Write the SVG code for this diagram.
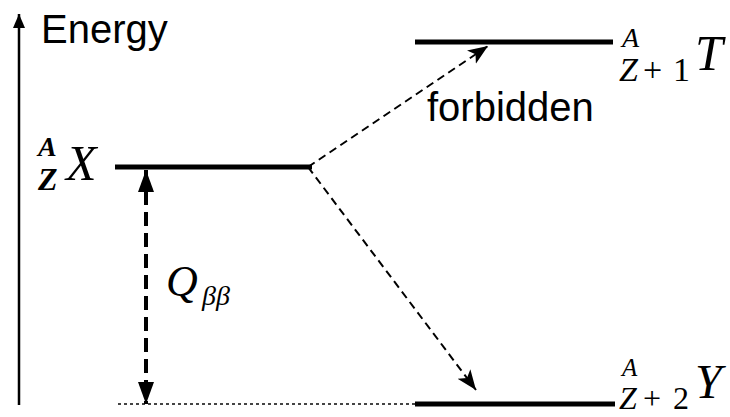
<svg xmlns="http://www.w3.org/2000/svg" width="730" height="417" viewBox="0 0 730 417">
<style>
.lvl{stroke:#000;stroke-width:5;fill:none}
.sans{font-family:"Liberation Sans",Arial,sans-serif;font-size:40px;fill:#000}
.m{font-family:"Liberation Serif","Times New Roman",serif;font-style:italic;fill:#000}
.r{font-family:"Liberation Serif","Times New Roman",serif;fill:#000}
.dash{stroke:#000;stroke-width:2;stroke-dasharray:8 5;fill:none}
</style>
<defs>
<marker id="ah" markerUnits="userSpaceOnUse" markerWidth="22" markerHeight="18" refX="20" refY="8" orient="auto">
<path d="M0,0 L20,8 L0,16 L5,8 z" fill="#000"/>
</marker>
<marker id="axh" markerUnits="userSpaceOnUse" markerWidth="16" markerHeight="14" refX="14" refY="6" orient="auto">
<path d="M0,0 L14,6 L0,12 z" fill="#000"/>
</marker>
<marker id="qh" markerUnits="userSpaceOnUse" markerWidth="24" markerHeight="18" refX="22" refY="8" orient="auto-start-reverse">
<path d="M0,0 L22,8 L0,16 z" fill="#000"/>
</marker>
</defs>
<g id="axis">
<line x1="19" y1="405" x2="19" y2="14" stroke="#000" stroke-width="2.5" marker-end="url(#axh)"/>
<text class="sans" x="41" y="43">Energy</text>
</g>
<g id="nodeX">
<line class="lvl" x1="115" y1="167" x2="312" y2="167"/>
<text class="m" x="38" y="156" font-size="28" font-weight="bold">A</text>
<text class="m" x="38" y="190" font-size="32" font-weight="bold">Z</text>
<text class="m" x="66" y="180" font-size="50">X</text>
</g>
<g id="nodeT">
<line class="lvl" x1="415" y1="42" x2="613" y2="42"/>
<text class="m" x="622" y="47" font-size="28">A</text>
<text class="m" x="619" y="81" font-size="34">Z</text>
<text class="r" x="643" y="81" font-size="34">+</text>
<text class="r" x="673" y="81" font-size="34">1</text>
<text class="m" x="695" y="70" font-size="50">T</text>
</g>
<g id="nodeY">
<line class="lvl" x1="415" y1="404" x2="615" y2="404"/>
<text class="m" x="622" y="376" font-size="25">A</text>
<text class="m" x="619" y="409" font-size="32">Z</text>
<text class="r" x="643" y="409" font-size="32">+</text>
<text class="r" x="673" y="409" font-size="32">2</text>
<text class="m" x="695" y="398" font-size="48">Y</text>
</g>
<g id="connectors">
<line x1="118" y1="404" x2="415" y2="404" stroke="#444" stroke-width="2" stroke-dasharray="3 3"/>
<line x1="146" y1="170" x2="146" y2="404" stroke="#000" stroke-width="4" stroke-dasharray="14 7" marker-start="url(#qh)" marker-end="url(#qh)"/>
<line class="dash" x1="308" y1="167" x2="488" y2="46" marker-end="url(#ah)"/>
<line class="dash" x1="308" y1="167" x2="476" y2="390" marker-end="url(#ah)"/>
</g>
<g id="labels">
<text class="sans" x="427" y="121">forbidden</text>
<text class="m" x="166" y="296" font-size="44">Q</text>
<text class="m" x="202" y="305" font-size="28">ββ</text>
</g>
</svg>
